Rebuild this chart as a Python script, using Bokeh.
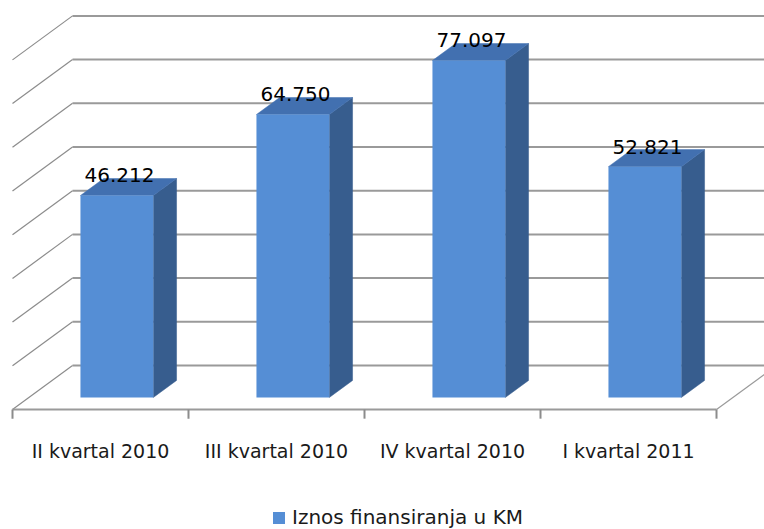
from bokeh.plotting import figure
from bokeh.models import Range1d, ColumnDataSource, Legend, LegendItem
from bokeh.embed import file_html
from bokeh.resources import INLINE
from bokeh.core.properties import value

# ---- data ----
categories = ["II kvartal 2010", "III kvartal 2010", "IV kvartal 2010", "I kvartal 2011"]
values = [46.212, 64.750, 77.097, 52.821]
value_labels = ["46.212", "64.750", "77.097", "52.821"]
grid_values = [0, 10, 20, 30, 40, 50, 60, 70, 80]
series_name = "Iznos finansiranja u KM"

# ---- 3D projection constants (category units, value units) ----
DX, DY = 0.341, 10.07      # full floor depth offset
D1, D2 = 0.273, 0.66       # bar front / back depth fraction
HW = 0.207                 # bar half width
FONT = "DejaVu Sans"

FRONT = "#558ED5"
SIDE = "#375D8E"
TOP = "#4270B0"
GRID = "#9a9a9a"

n = len(categories)
p = figure(width=764, height=529, output_backend="svg", toolbar_location=None,
           x_range=Range1d(-0.0682, 4.2727), y_range=Range1d(-27.46, 93.59),
           x_axis_location=None, y_axis_location=None, min_border=0,
           outline_line_color=None, background_fill_color="white",
           border_fill_color="white")
p.grid.visible = False

# back wall gridlines
p.segment(x0=[DX] * len(grid_values), y0=[v + DY for v in grid_values],
          x1=[n + 1] * len(grid_values), y1=[v + DY for v in grid_values],
          line_color=GRID, line_width=2)
# side wall diagonals
p.segment(x0=[0] * len(grid_values), y0=grid_values,
          x1=[DX] * len(grid_values), y1=[v + DY for v in grid_values],
          line_color="#8c8c8c", line_width=1.2)
# floor front edge and right edge
p.segment(x0=[0, n], y0=[0, 0], x1=[n, n + DX], y1=[0, DY],
          line_color=GRID, line_width=[2, 1.2])
# ticks
p.segment(x0=list(range(n + 1)), y0=[0] * (n + 1), x1=list(range(n + 1)),
          y1=[-2.1] * (n + 1), line_color="#8c8c8c", line_width=2)

# bars
centers = [i + 0.5 for i in range(n)]
side_xs, side_ys, top_xs, top_ys = [], [], [], []
for c, v in zip(centers, values):
    xr1 = c + HW + D1 * DX
    xr2 = c + HW + D2 * DX
    xl1 = c - HW + D1 * DX
    xl2 = c - HW + D2 * DX
    side_xs.append([xr1, xr2, xr2, xr1])
    side_ys.append([D1 * DY, D2 * DY, v + D2 * DY, v + D1 * DY])
    top_xs.append([xl1, xr1, xr2, xl2])
    top_ys.append([v + D1 * DY, v + D1 * DY, v + D2 * DY, v + D2 * DY])

p.patches(xs=side_xs, ys=side_ys, fill_color=SIDE, line_color=SIDE, line_width=0.5)
p.patches(xs=top_xs, ys=top_ys, fill_color=TOP, line_color=TOP, line_width=0.5)
front_src = ColumnDataSource(dict(
    left=[c - HW + D1 * DX for c in centers],
    right=[c + HW + D1 * DX for c in centers],
    bottom=[D1 * DY] * n,
    top=[v + D1 * DY for v in values]))
front = p.quad(left="left", right="right", bottom="bottom", top="top",
               source=front_src, fill_color=FRONT, line_color=None)

# value labels
p.text(x=[c + D1 * DX + 0.015 for c in centers], y=[v + D2 * DY + 0.7 for v in values],
       text=value_labels, text_font=value(FONT), text_font_size="20px",
       text_color="black", text_align="center", text_baseline="alphabetic")

# category labels
p.text(x=centers, y=[-9.4] * n, text=categories, text_font=value(FONT),
       text_font_size="19px", text_color="#1a1a1a", text_align="center",
       text_baseline="middle")

legend = Legend(items=[LegendItem(label=series_name, renderers=[front])],
                location=(271, 0), orientation="horizontal",
                border_line_color=None, background_fill_alpha=0,
                padding=0, margin=0, spacing=0, label_standoff=6,
                glyph_width=15, glyph_height=15,
                label_text_font=FONT, label_text_font_size="20px",
                label_text_color="#1a1a1a")
p.add_layout(legend, "center")

open("out.html", "w").write(file_html(p, INLINE))
